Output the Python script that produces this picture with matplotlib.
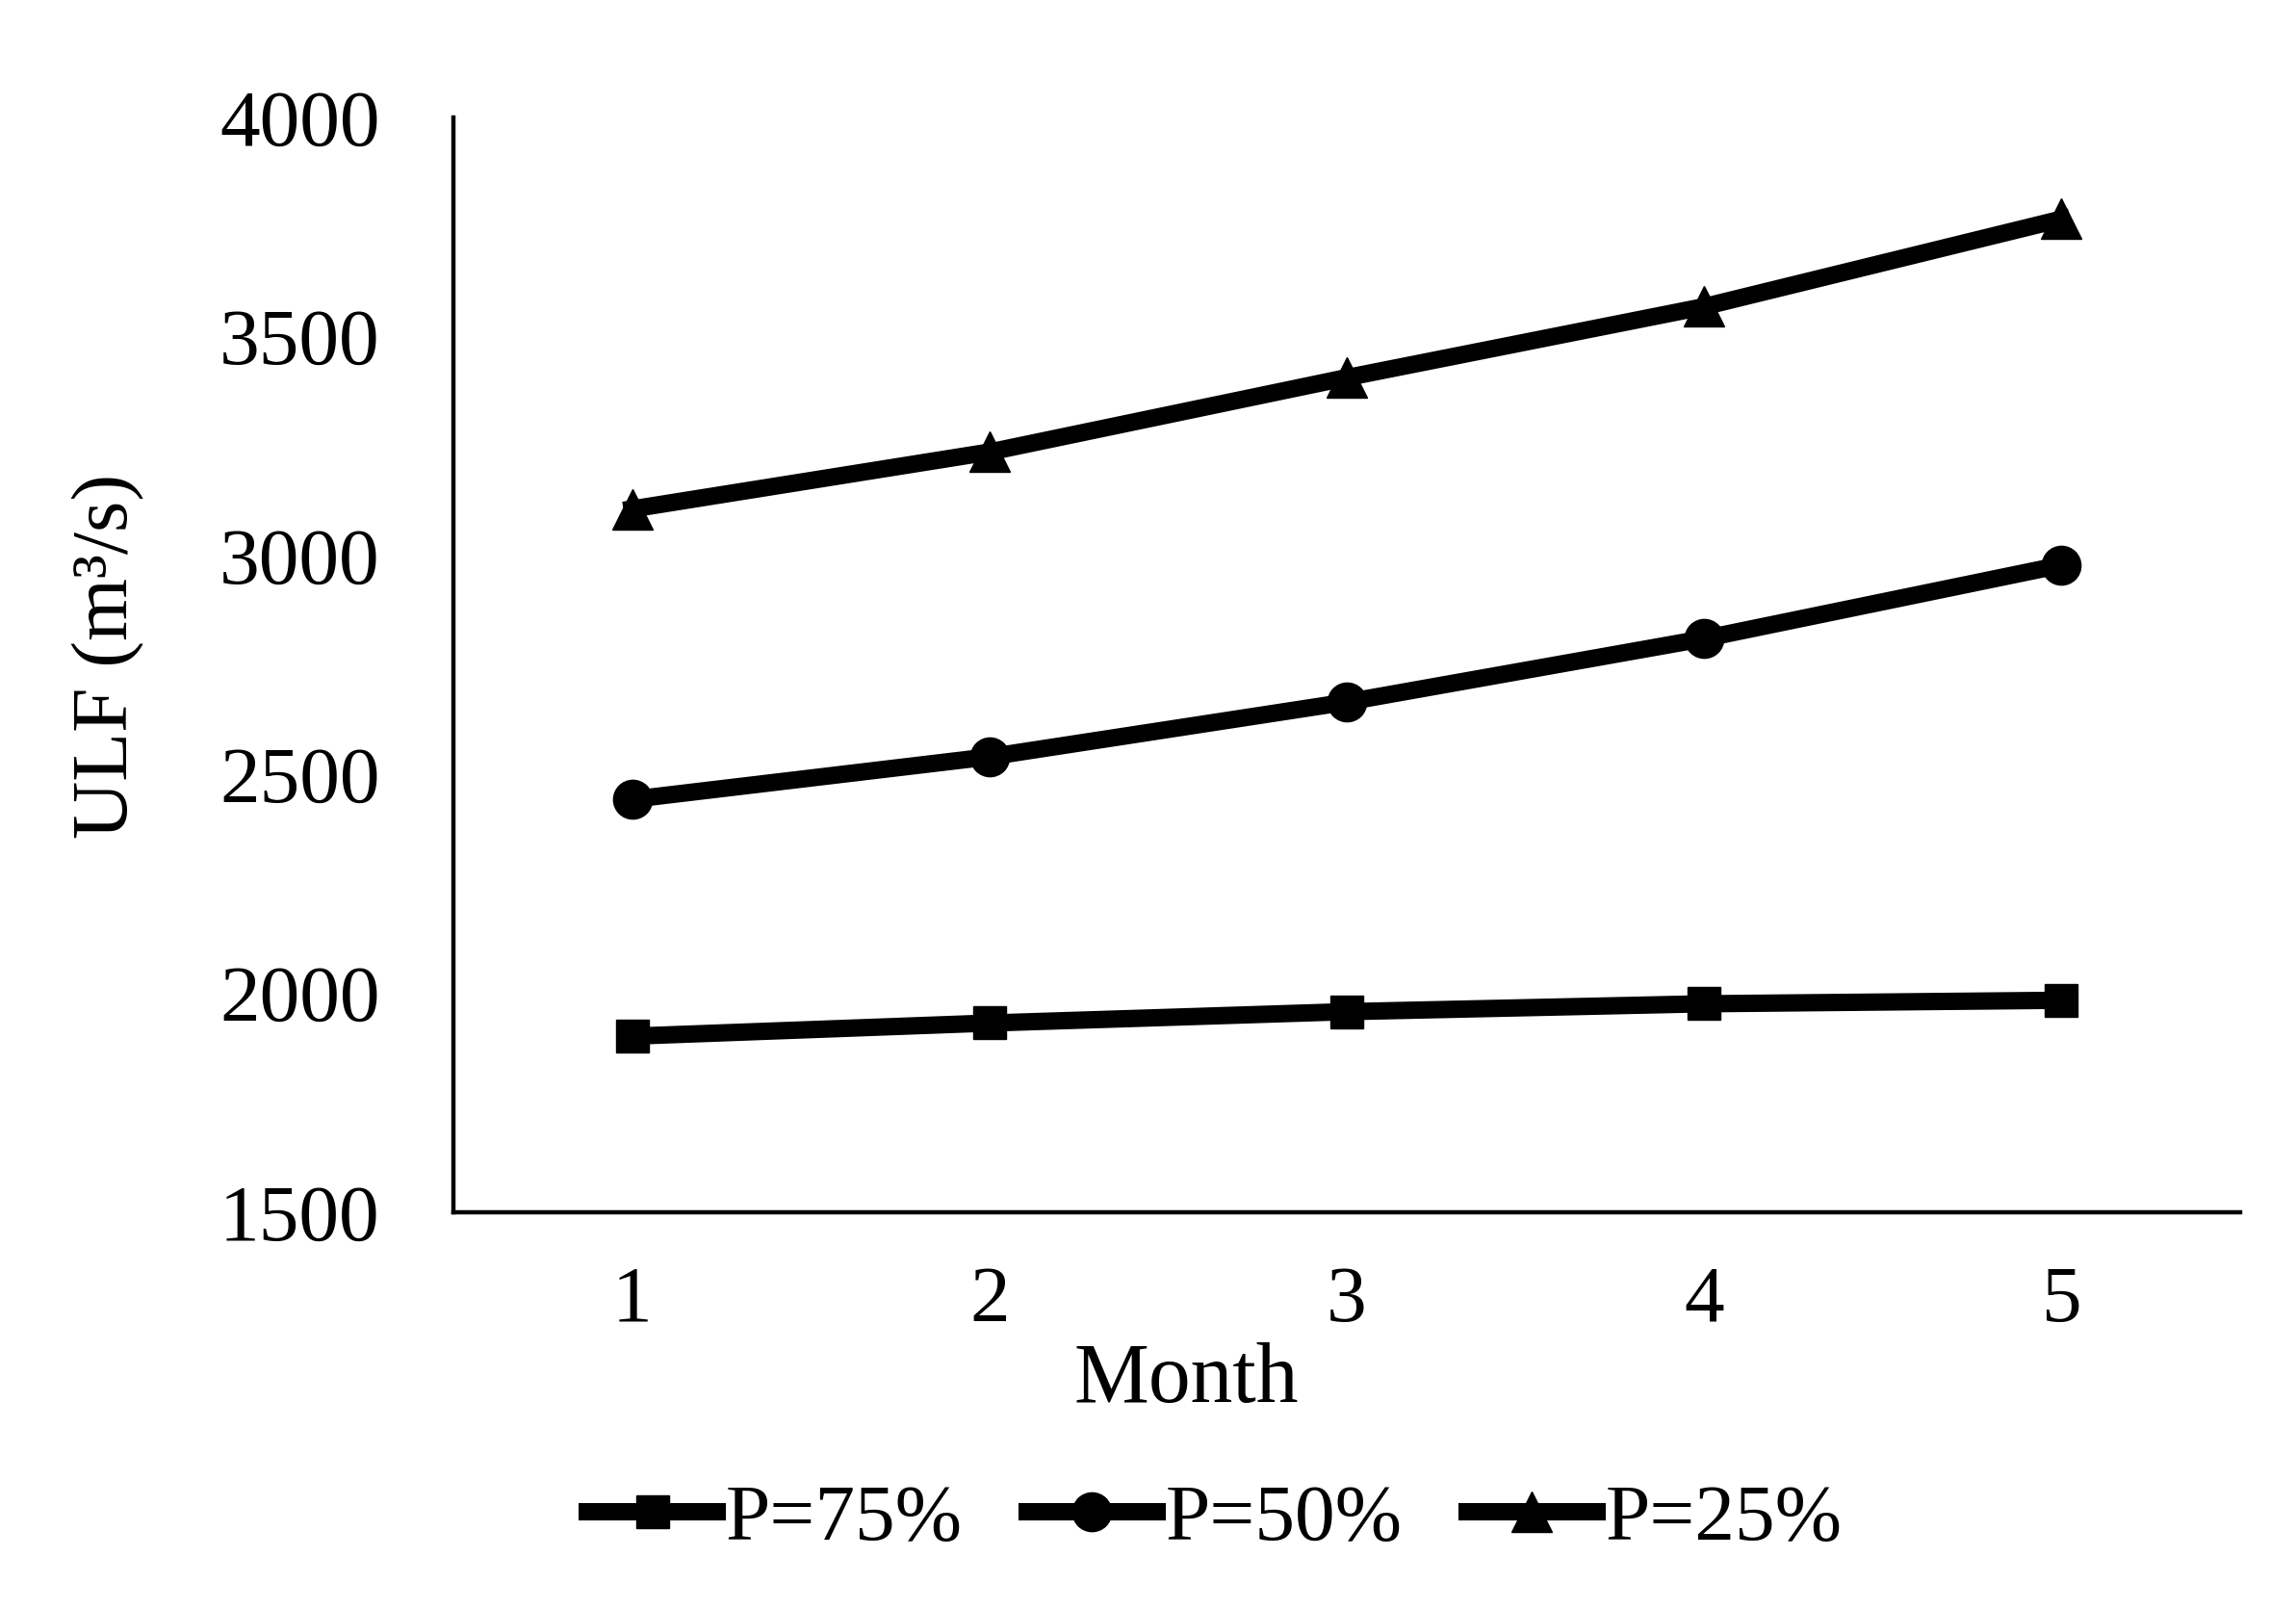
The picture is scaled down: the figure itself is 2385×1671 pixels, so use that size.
import matplotlib
matplotlib.use('Agg')
import matplotlib.pyplot as plt

months = [1, 2, 3, 4, 5]
p75 = [1902, 1932, 1958, 1976, 1984]
p50 = [2443, 2540, 2665, 2810, 2978]
p25 = [3106, 3236, 3406, 3568, 3768]
series_labels = ['P=75%', 'P=50%', 'P=25%']
y_ticks = [1500, 2000, 2500, 3000, 3500, 4000]

plt.rcParams['font.family'] = ['Liberation Serif', 'DejaVu Serif']

fig = plt.figure(figsize=(23.85, 16.71), dpi=100)
ax = fig.add_axes([0.1975, 0.2466, 0.9757 - 0.1975, 0.927 - 0.2466])

ax.plot(months, p75, color='black', lw=13, marker='s', ms=25, label=series_labels[0])
ax.plot(months, p50, color='black', lw=13, marker='o', ms=29, label=series_labels[1])
ax.plot(months, p25, color='black', lw=13, marker='^', ms=30, label=series_labels[2])

ax.set_xlim(0.5, 5.5)
ax.set_ylim(1500, 4000)
ax.set_xticks(months)
ax.set_yticks(y_ticks)

for side in ['top', 'right']:
    ax.spines[side].set_visible(False)
for side in ['left', 'bottom']:
    ax.spines[side].set_linewidth(3.2)

ax.tick_params(axis='both', length=0, labelsize=60)
ax.tick_params(axis='y', pad=55)
ax.tick_params(axis='x', pad=40)

ax.set_xlabel('Month', fontsize=63)
ax.xaxis.set_label_coords(0.41, -0.119)
ax.set_ylabel('ULF (m³/s)', fontsize=60)
ax.yaxis.set_label_coords(-0.173, 0.5075)

leg = ax.legend(loc='center', bbox_to_anchor=(0.426, -0.2816), ncol=3, frameon=False,
                fontsize=60, handlelength=1.63, handletextpad=0.1, columnspacing=0.8)

fig.savefig('out.png', dpi=100)
